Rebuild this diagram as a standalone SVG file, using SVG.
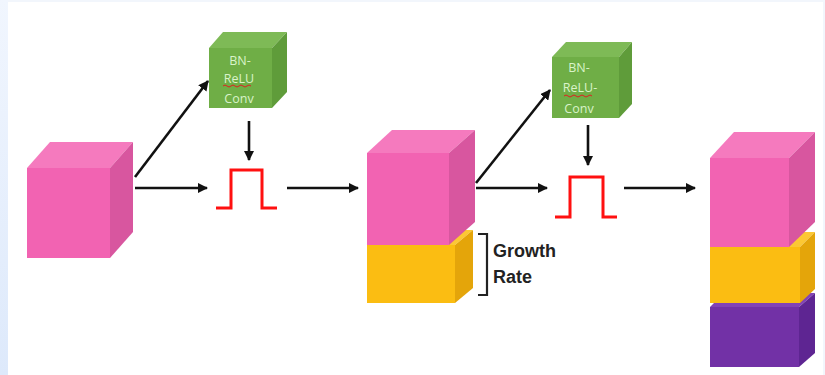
<svg xmlns="http://www.w3.org/2000/svg" width="825" height="375" viewBox="0 0 825 375">
  <defs>
    <linearGradient id="edge" x1="0" y1="0" x2="0" y2="1">
      <stop offset="0" stop-color="#f1f6fe"/>
      <stop offset="1" stop-color="#dde9fb"/>
    </linearGradient>
    <marker id="arrow" viewBox="0 0 10 10" refX="9" refY="5" markerWidth="4" markerHeight="4" orient="auto" markerUnits="strokeWidth">
      <path d="M0,0 L10,5 L0,10 z" fill="#111"/>
    </marker>
  </defs>
  <style>
    .edge { stroke: #111; stroke-width: 2.6; fill: none; marker-end: url(#arrow); }
    .pulse { stroke: #ff1010; stroke-width: 3; fill: none; stroke-linejoin: miter; }
    .pink-front { fill: #f263b2; }
    .pink-top { fill: #f57abe; }
    .pink-side { fill: #d8569f; }
    .gold-front { fill: #fbbd12; }
    .gold-top { fill: #fcc834; }
    .gold-side { fill: #e4a50a; }
    .violet-front { fill: #7231a6; }
    .violet-top { fill: #8242b6; }
    .violet-side { fill: #5e2592; }
    .green-front { fill: #6fae46; }
    .green-top { fill: #7eba56; }
    .green-side { fill: #5f9c3a; }
    .op { font-family: "Open Sans", "Liberation Sans", sans-serif; font-size: 12.5px; fill: #d9f3c9; text-anchor: middle; }
    .squiggle { stroke: #e02020; stroke-width: 1; fill: none; }
    .label { font-family: "Liberation Sans", "Open Sans", sans-serif; font-weight: bold; font-size: 18px; fill: #222; }
  </style>

  <!-- page background -->
  <rect x="0" y="0" width="825" height="375" fill="#ffffff"/>
  <rect x="0" y="0" width="8" height="375" fill="url(#edge)"/>
  <rect x="8" y="0" width="817" height="2" fill="#f2f6fc"/>
  <rect x="823" y="0" width="2" height="375" fill="#f2f6fc"/>

  <!-- input feature map -->
  <g id="input-block">
    <polygon class="pink-top" points="27,168 50,142 133,142 110,168"/>
    <polygon class="pink-side" points="110,168 133,142 133,232 110,258"/>
    <rect class="pink-front" x="27" y="168" width="83" height="90"/>
  </g>

  <!-- first BN-ReLU-Conv operation -->
  <g id="conv-1">
    <polygon class="green-top" points="209,48 223,32 287,32 272,48"/>
    <polygon class="green-side" points="272,48 287,32 287,92 272,108"/>
    <rect class="green-front" x="209" y="48" width="63" height="60"/>
    <text class="op" x="240" y="65">BN-</text>
    <text class="op" x="239" y="83">ReLU</text>
    <path class="squiggle" d="M223,86 q2,-2 4,0 t4,0 t4,0 t4,0 t4,0 t4,0 t4,0"/>
    <text class="op" x="239" y="103">Conv</text>
  </g>

  <!-- first pulse -->
  <g id="pulse-1">
    <path class="pulse" d="M216,208 H231 V170 H262 V208 H277"/>
  </g>

  <!-- feature map after first layer -->
  <g id="block-2">
    <polygon class="gold-top" points="367,245 385,230 473,230 455,245"/>
    <polygon class="gold-side" points="455,245 473,230 473,288 455,303"/>
    <rect class="gold-front" x="367" y="245" width="88" height="58"/>
    <polygon class="pink-top" points="367,153 392,130 475,130 449,153"/>
    <polygon class="pink-side" points="449,153 475,130 475,222 449,245"/>
    <rect class="pink-front" x="367" y="153" width="82" height="92"/>
  </g>

  <!-- growth rate bracket -->
  <g id="growth-rate">
    <path d="M478,234 H487 V295 H478" stroke="#222" stroke-width="2.2" fill="none"/>
    <text class="label" x="493" y="257">Growth</text>
    <text class="label" x="493" y="283">Rate</text>
  </g>

  <!-- second BN-ReLU-Conv operation -->
  <g id="conv-2">
    <polygon class="green-top" points="552,57 566,42 632,42 619,57"/>
    <polygon class="green-side" points="619,57 632,42 632,104 619,118"/>
    <rect class="green-front" x="552" y="57" width="67" height="61"/>
    <text class="op" x="579" y="72">BN-</text>
    <text class="op" x="580" y="92">ReLU-</text>
    <path class="squiggle" d="M564,96 q2,-2 4,0 t4,0 t4,0 t4,0 t4,0 t4,0 t4,0"/>
    <text class="op" x="579" y="113">Conv</text>
  </g>

  <!-- second pulse -->
  <g id="pulse-2">
    <path class="pulse" d="M555,217 H570 V177 H603 V217 H617"/>
  </g>

  <!-- feature map after second layer -->
  <g id="block-3">
    <polygon class="violet-top" points="710,307 724,293 815,293 799,307"/>
    <polygon class="violet-side" points="799,307 815,293 815,353 799,367"/>
    <rect class="violet-front" x="710" y="307" width="89" height="60"/>
    <polygon class="gold-top" points="710,247 727,232 815,232 800,247"/>
    <polygon class="gold-side" points="800,247 815,232 815,289 800,303"/>
    <rect class="gold-front" x="710" y="247" width="90" height="56"/>
    <polygon class="pink-top" points="710,158 734,132 815,132 789,158"/>
    <polygon class="pink-side" points="789,158 815,132 815,222 789,247"/>
    <rect class="pink-front" x="710" y="158" width="79" height="89"/>
  </g>

  <!-- connectors -->
  <g id="connectors">
    <line class="edge" x1="135" y1="177" x2="208" y2="81"/>
    <line class="edge" x1="135" y1="188" x2="207" y2="188"/>
    <line class="edge" x1="249" y1="121" x2="249" y2="160"/>
    <line class="edge" x1="287" y1="188" x2="358" y2="188"/>
    <line class="edge" x1="476" y1="183" x2="550" y2="90"/>
    <line class="edge" x1="476" y1="188" x2="547" y2="188"/>
    <line class="edge" x1="588" y1="125" x2="588" y2="165"/>
    <line class="edge" x1="624" y1="188" x2="695" y2="188"/>
  </g>
</svg>
